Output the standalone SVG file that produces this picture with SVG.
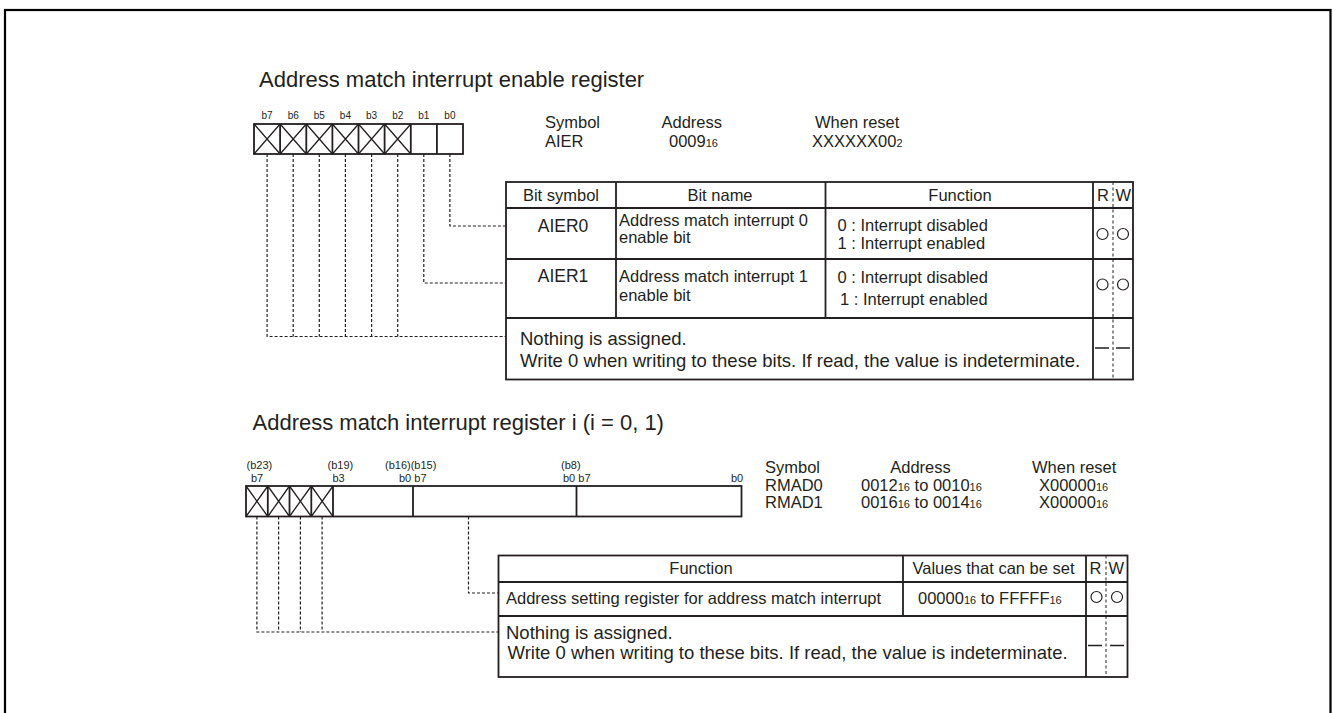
<svg xmlns="http://www.w3.org/2000/svg" width="1333" height="713" viewBox="0 0 1333 713">
<style>
text { font-family: "Liberation Sans", Arial, sans-serif; fill: #231f20; }
.title { font-size: 22px; }
.lbl { font-size: 16.5px; }
.big { font-size: 18.5px; }
.sym { font-size: 17.5px; }
.bit { font-size: 10px; }
.bit2 { font-size: 11px; }
.sub { font-size: 11px; }
.mid { text-anchor: middle; }
.frame { fill: none; stroke: #000; stroke-width: 2.2; }
.ln { fill: none; stroke: #231f20; stroke-width: 1.8; }
.thin { fill: none; stroke: #231f20; stroke-width: 1.3; }
.dash { fill: none; stroke: #231f20; stroke-width: 1.2; stroke-dasharray: 3 2; }
.rw { fill: none; stroke: #231f20; stroke-width: 1; stroke-dasharray: 3 2.5; }
.c { fill: none; stroke: #231f20; stroke-width: 1.2; }
</style>
<rect class="frame" x="5" y="10" width="1325.5" height="720"/>

<g id="title1"><text class="title" x="259" y="87">Address match interrupt enable register</text></g>

<g id="aier-register">
  <g class="bit mid">
    <text x="267.1" y="119">b7</text><text x="293.2" y="119">b6</text><text x="319.3" y="119">b5</text><text x="345.4" y="119">b4</text>
    <text x="371.6" y="119">b3</text><text x="397.7" y="119">b2</text><text x="423.8" y="119">b1</text><text x="449.9" y="119">b0</text>
  </g>
  <path class="thin" d="M254,124 L280.1,154 M280.1,124 L254,154 M280.1,124 L306.3,154 M306.3,124 L280.1,154 M306.3,124 L332.4,154 M332.4,124 L306.3,154 M332.4,124 L358.5,154 M358.5,124 L332.4,154 M358.5,124 L384.6,154 M384.6,124 L358.5,154 M384.6,124 L410.8,154 M410.8,124 L384.6,154"/>
  <path class="ln" d="M280.1,124 V154 M306.3,124 V154 M332.4,124 V154 M358.5,124 V154 M384.6,124 V154 M410.8,124 V154 M436.9,124 V154"/>
  <rect class="ln" x="254" y="124" width="209" height="30"/>
</g>

<g id="aier-info" class="lbl">
  <text x="545" y="128">Symbol</text>
  <text x="545" y="147">AIER</text>
  <text x="661.5" y="128">Address</text>
  <text x="669" y="147">0009<tspan class="sub">16</tspan></text>
  <text x="815" y="128">When reset</text>
  <text x="812" y="147">XXXXXX00<tspan class="sub">2</tspan></text>
</g>

<g id="aier-table">
  <rect class="ln" x="506" y="182" width="627" height="197.5"/>
  <path class="ln" d="M506,208 H1133 M506,259 H1133 M506,318 H1133 M616,182 V318 M825.5,182 V318 M1093,182 V379.5"/>
  <path class="rw" d="M1113,182 V379.5"/>
  <g class="lbl">
    <text class="mid" x="561" y="201">Bit symbol</text>
    <text class="mid" x="720" y="201">Bit name</text>
    <text class="mid" x="960" y="201">Function</text>
    <text x="1097" y="201">R</text>
    <text x="1115.5" y="201">W</text>
  </g>
  <g id="row-aier0">
    <text class="sym mid" x="563" y="232">AIER0</text>
    <text class="lbl" x="619" y="225.5">Address match interrupt 0</text>
    <text class="lbl" x="619" y="243">enable bit</text>
    <text class="lbl" x="837.5" y="231">0 : Interrupt disabled</text>
    <text class="lbl" x="837.5" y="249">1 : Interrupt enabled</text>
    <circle class="c" cx="1102.5" cy="234" r="5.5"/>
    <circle class="c" cx="1123" cy="234" r="5.5"/>
  </g>
  <g id="row-aier1">
    <text class="sym mid" x="563" y="282">AIER1</text>
    <text class="lbl" x="619" y="281.5">Address match interrupt 1</text>
    <text class="lbl" x="619" y="300.5">enable bit</text>
    <text class="lbl" x="837.5" y="283">0 : Interrupt disabled</text>
    <text class="lbl" x="840" y="304.5">1 : Interrupt enabled</text>
    <circle class="c" cx="1102.5" cy="284.5" r="5.5"/>
    <circle class="c" cx="1123" cy="284.5" r="5.5"/>
  </g>
  <g id="row-aier-nothing">
    <text class="big" x="520" y="345">Nothing is assigned.</text>
    <text class="big" x="520" y="366.5">Write 0 when writing to these bits. If read, the value is indeterminate.</text>
    <path class="thin" d="M1095,348 H1109 M1116,348 H1130"/>
  </g>
</g>

<g id="title2"><text class="title" x="252.5" y="430">Address match interrupt register i (i = 0, 1)</text></g>

<g id="rmad-register">
  <g class="bit2">
    <text x="246.5" y="469">(b23)</text><text x="251" y="482">b7</text>
    <text x="327.5" y="469">(b19)</text><text x="332.5" y="482">b3</text>
    <text x="385" y="469">(b16)(b15)</text><text x="399" y="482">b0 b7</text>
    <text x="561" y="469">(b8)</text><text x="563" y="482">b0 b7</text>
    <text x="731" y="482">b0</text>
  </g>
  <path class="thin" d="M246,486 L267.8,516.5 M267.8,486 L246,516.5 M267.8,486 L289.5,516.5 M289.5,486 L267.8,516.5 M289.5,486 L311.3,516.5 M311.3,486 L289.5,516.5 M311.3,486 L333,516.5 M333,486 L311.3,516.5"/>
  <path class="ln" d="M267.8,486 V516.5 M289.5,486 V516.5 M311.3,486 V516.5 M333,486 V516.5 M413,486 V516.5 M576.5,486 V516.5"/>
  <rect class="ln" x="246" y="486" width="495.5" height="30.5"/>
</g>

<g id="rmad-info" class="lbl">
  <text x="765" y="473">Symbol</text>
  <text x="765" y="490.5">RMAD0</text>
  <text x="765" y="508">RMAD1</text>
  <text class="mid" x="920.5" y="473">Address</text>
  <text x="861" y="490.5">0012<tspan class="sub">16</tspan> to 0010<tspan class="sub">16</tspan></text>
  <text x="861" y="508">0016<tspan class="sub">16</tspan> to 0014<tspan class="sub">16</tspan></text>
  <text x="1032" y="473">When reset</text>
  <text x="1039" y="490.5">X00000<tspan class="sub">16</tspan></text>
  <text x="1039" y="508">X00000<tspan class="sub">16</tspan></text>
</g>

<g id="rmad-table">
  <rect class="ln" x="498.5" y="555.5" width="629" height="121.5"/>
  <path class="ln" d="M498.5,582 H1127.5 M498.5,616 H1127.5 M903,555.5 V616 M1086,555.5 V677"/>
  <path class="rw" d="M1106,555.5 V677"/>
  <g class="lbl">
    <text class="mid" x="701" y="574">Function</text>
    <text class="mid" x="993.5" y="574">Values that can be set</text>
    <text x="1089.5" y="574">R</text>
    <text x="1108.5" y="574">W</text>
  </g>
  <g id="row-rmad">
    <text class="lbl" x="506" y="603.5">Address setting register for address match interrupt</text>
    <text class="lbl" x="918" y="604">00000<tspan class="sub">16</tspan> to FFFFF<tspan class="sub">16</tspan></text>
    <circle class="c" cx="1096.5" cy="597" r="5.5"/>
    <circle class="c" cx="1117" cy="597" r="5.5"/>
  </g>
  <g id="row-rmad-nothing">
    <text class="big" x="506" y="638.5">Nothing is assigned.</text>
    <text class="big" x="507.5" y="659">Write 0 when writing to these bits. If read, the value is indeterminate.</text>
    <path class="thin" d="M1088,645.5 H1102 M1110,645.5 H1124"/>
  </g>
</g>

<g id="connectors" class="dash">
  <path d="M449.9,154 V226 H506"/>
  <path d="M423.8,154 V283 H506"/>
  <path d="M267.1,154 V336.5 H506 M293.2,154 V336.5 M319.3,154 V336.5 M345.4,154 V336.5 M371.6,154 V336.5 M397.7,154 V336.5"/>
  <path d="M468.5,516.5 V593 H498.5"/>
  <path d="M256.9,516.5 V632 H498.5 M278.6,516.5 V632 M300.4,516.5 V632 M322.1,516.5 V632"/>
</g>
</svg>
